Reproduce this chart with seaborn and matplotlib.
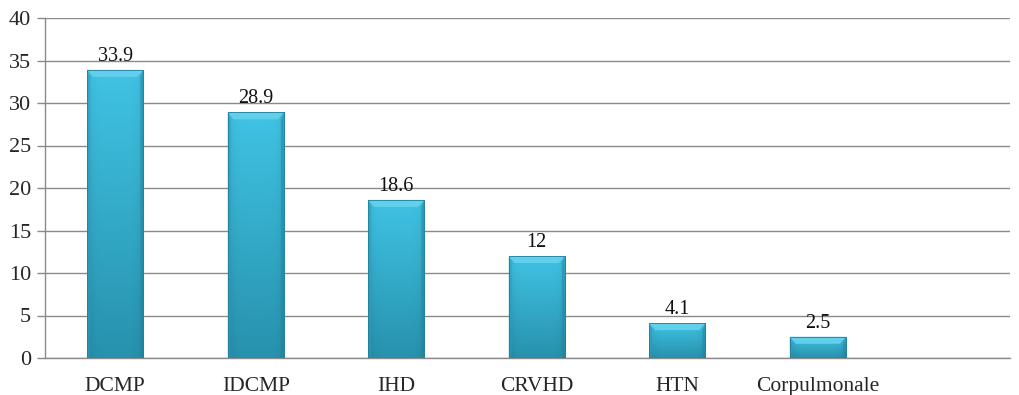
import numpy as np
import pandas as pd
import matplotlib
matplotlib.use("Agg")
import matplotlib.pyplot as plt
from matplotlib.colors import to_rgb
from matplotlib.patches import Polygon
import seaborn as sns

categories = ["DCMP", "IDCMP", "IHD", "CRVHD", "HTN", "Corpulmonale"]
values = [33.9, 28.9, 18.6, 12, 4.1, 2.5]
value_labels = ["33.9", "28.9", "18.6", "12", "4.1", "2.5"]
y_ticks = [0, 5, 10, 15, 20, 25, 30, 35, 40]

sns.set_theme(style="white")
plt.rcParams["font.family"] = ["Liberation Serif", "DejaVu Serif"]

df = pd.DataFrame({"category": categories, "value": values})

fig = plt.figure(figsize=(10.19, 3.95), dpi=100)
ax = fig.add_axes([45 / 1019, 37 / 395, 965 / 1019, 340 / 395])

sns.barplot(data=df, x="category", y="value", color="#33aed0", width=0.40,
            saturation=1, ax=ax, zorder=3)

# cylinder-like shading for each bar, plus a light bevel along the top
top_rgb = np.array(to_rgb("#40c3e4"))
bot_rgb = np.array(to_rgb("#2792ad"))
ny, nx = 64, 64
t = np.linspace(0, 1, ny)[:, None]
base = top_rgb[None, None, :] * (1 - t[..., None]) + bot_rgb[None, None, :] * t[..., None]
xs = np.linspace(-1, 1, nx)
edge = 1 - 0.10 * np.abs(xs) ** 6
shade = np.clip(base * edge[None, :, None], 0, 1)

px_per_unit = 340 / 40
bevel_h = 7 / px_per_unit
for patch in ax.patches:
    x0, y0 = patch.get_x(), patch.get_y()
    w, h = patch.get_width(), patch.get_height()
    img = ax.imshow(shade, extent=(x0, x0 + w, y0, y0 + h), aspect="auto",
                    origin="upper", zorder=3.5, interpolation="bilinear")
    img.set_clip_path(patch)
    inset = 6 / 140.5
    bh = min(bevel_h, h * 0.5)
    top = y0 + h
    ax.add_patch(Polygon([(x0, top), (x0 + w, top), (x0 + w - inset, top - bh),
                          (x0 + inset, top - bh)], closed=True,
                         facecolor="#62d0ec", edgecolor="none", zorder=4))
    side = 3 / 140.5
    ax.add_patch(Polygon([(x0, top), (x0 + side, top - bh), (x0 + side, y0), (x0, y0)],
                         closed=True, facecolor="#2a9fbf", alpha=0.5,
                         edgecolor="none", zorder=4))
    ax.add_patch(Polygon([(x0 + w, top), (x0 + w - side, top - bh), (x0 + w - side, y0),
                          (x0 + w, y0)], closed=True, facecolor="#1f86a3", alpha=0.5,
                         edgecolor="none", zorder=4))
    patch.set_edgecolor("#237f98")
    patch.set_linewidth(0.6)
    patch.set_facecolor("none")
    patch.set_zorder(5)

for i, (v, lab) in enumerate(zip(values, value_labels)):
    ax.annotate(lab, (i, v), xytext=(0, 3), textcoords="offset points",
                ha="center", va="bottom", fontsize=14.5, color="#111111", zorder=6)

ax.set_ylim(0, 40)
ax.set_xlim(-0.5, -0.5 + 965 / 140.5)
ax.set_yticks(y_ticks)
ax.set_yticklabels([str(v) for v in y_ticks], fontsize=16)
ax.yaxis.grid(True, color="#8a8a8a", linewidth=1, zorder=0)
ax.set_axisbelow(True)

ax.set_xticks(range(len(categories)))
ax.set_xticklabels(categories, fontsize=15.5)
ax.set_xticks(np.arange(-0.5, len(categories) + 0.5, 1), minor=True)
ax.tick_params(axis="x", which="major", length=0, pad=13.5)
ax.tick_params(axis="x", which="minor", length=5, width=1, color="#8a8a8a", direction="out")
ax.tick_params(axis="y", length=6, width=1, color="#8a8a8a", direction="out", pad=4, left=True)

ax.set_xlabel("")
ax.set_ylabel("")
for s in ["top", "right"]:
    ax.spines[s].set_visible(False)
for s in ["left", "bottom"]:
    ax.spines[s].set_color("#8a8a8a")
    ax.spines[s].set_linewidth(1)

fig.savefig("out.png", dpi=100)
